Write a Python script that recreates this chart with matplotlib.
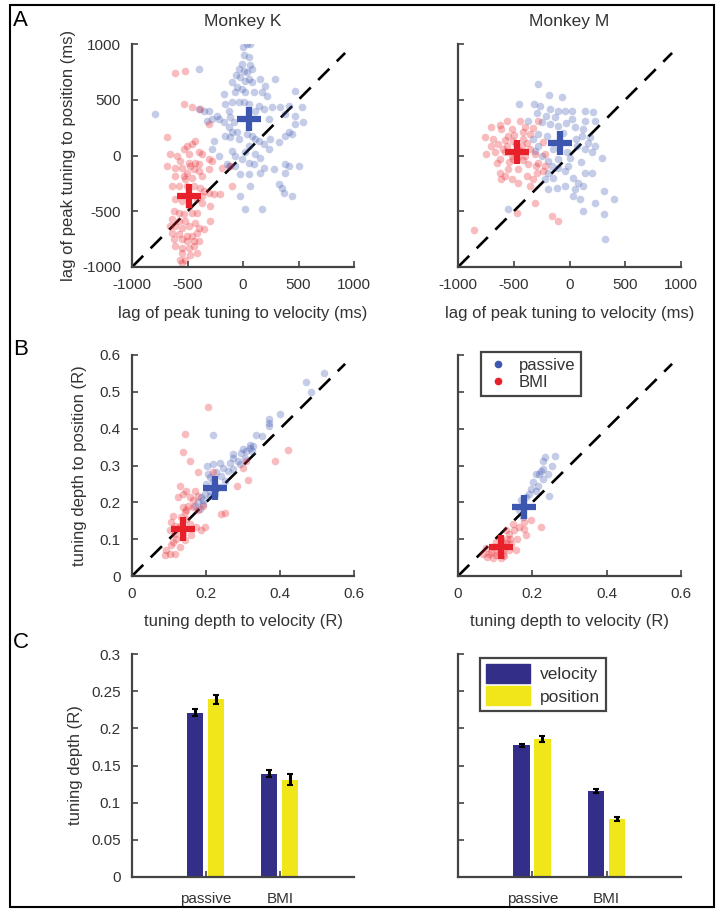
import matplotlib
matplotlib.use("Agg")
import matplotlib.pyplot as plt
from matplotlib.lines import Line2D
from matplotlib.patches import Patch, Rectangle
import numpy as np

plt.rcParams['font.family'] = ['Liberation Sans', 'DejaVu Sans']
plt.rcParams['axes.unicode_minus'] = False

BLUE = '#3d57b0'
RED = '#e8202a'
NAVY = '#332e87'
YELLOW = '#f1e61a'
GRAY = '#444444'
TXT = '#333333'

# ---- panel A: lag of peak tuning (ms), (velocity, position) ----
lag_k_passive = [
    (65, 1000), (35, 1000), (0, 970), (10, 900), (50, 880), (-10, 820), (65, 810),
    (-35, 780), (5, 760), (35, 750), (80, 780), (-65, 720), (-25, 700), (50, 690),
    (20, 670), (80, 660), (155, 690), (290, 690), (-100, 660), (-55, 610), (-10, 600),
    (20, 570), (-70, 570), (95, 570), (170, 567), (200, 627), (215, 537), (470, 582),
    (-175, 552), (-160, 462), (-100, 477), (-40, 477), (5, 477), (50, 462), (140, 447),
    (185, 417), (110, 402), (260, 432), (335, 432), (410, 447), (530, 432), (-130, 402),
    (-280, 327), (-235, 357), (-310, 402), (-400, 417), (-355, 402), (-325, 312),
    (-220, 327), (-175, 297), (-115, 342), (-85, 297), (-130, 252), (-100, 207),
    (-115, 162), (-160, 177), (-55, 207), (-40, 147), (35, 192), (80, 177), (110, 147),
    (140, 132), (185, 102), (230, 57), (245, 147), (320, 117), (380, 177), (410, 207),
    (440, 192), (470, 282), (545, 297), (470, 357), (380, 372), (230, 327), (50, 87),
    (20, 27), (110, 12), (155, -18), (95, -78), (50, -63), (-10, -33), (-70, -3),
    (-100, 42), (-265, 132), (-280, 57), (-220, -3), (-145, -78), (-130, -93),
    (-25, -168), (50, -168), (65, -273), (155, -153), (185, -108), (275, -123),
    (380, -78), (410, -93), (380, -153), (500, -93), (350, -288), (365, -333),
    (440, -363), (-25, -363), (20, -483), (170, -483), (-400, 777), (-790, 372),
    (320, -258), (-70, -93),
]
lag_k_bmi = [
    (-610, 738), (-520, 756), (-535, 462), (-460, 432), (-310, 282), (-385, 417),
    (-685, 162), (-430, 132), (-460, 102), (-505, 87), (-535, 57), (-490, 12),
    (-400, 27), (-370, 12), (-655, 12), (-595, -3), (-565, -48), (-490, -63),
    (-430, -63), (-400, -78), (-310, -33), (-280, -48), (-685, -93), (-610, -108),
    (-550, -108), (-475, -93), (-445, -123), (-400, -138), (-505, -153), (-535, -183),
    (-520, -213), (-460, -198), (-610, -183), (-370, -183), (-310, -123), (-190, -108),
    (-115, -93), (-640, -273), (-580, -273), (-505, -273), (-445, -273), (-385, -288),
    (-355, -318), (-310, -333), (-265, -348), (-205, -348), (-100, -273), (-610, -393),
    (-550, -408), (-415, -393), (-370, -423), (-295, -453), (-625, -498), (-580, -513),
    (-535, -528), (-460, -513), (-415, -513), (-640, -573), (-580, -588), (-520, -588),
    (-430, -603), (-295, -588), (-655, -633), (-610, -633), (-550, -648), (-490, -633),
    (-400, -648), (-355, -663), (-640, -693), (-580, -708), (-505, -723), (-460, -723),
    (-415, -693), (-625, -753), (-550, -753), (-505, -768), (-445, -768), (-400, -768),
    (-610, -813), (-550, -828), (-490, -828), (-445, -813), (-550, -873), (-475, -888),
    (-415, -873), (-565, -933), (-520, -933), (-550, -963), (-370, -363), (-490, -453),
]
lag_m_passive = [
    (-280, 642), (-181, 543), (-70, 522), (-451, 462), (-316, 462), (-265, 447),
    (-175, 417), (-100, 402), (-40, 402), (20, 402), (140, 402), (215, 393),
    (-295, 381), (-214, 357), (-130, 342), (20, 327), (140, 312), (230, 312),
    (-370, 312), (-250, 297), (-175, 282), (-100, 267), (50, 252), (125, 237),
    (-280, 192), (-205, 177), (110, 177), (185, 162), (230, 87), (140, 57), (200, 27),
    (290, -18), (65, 87), (-25, 27), (5, -18), (-100, -33), (-190, -48), (-250, -3),
    (-310, 42), (-325, 147), (-280, 87), (-100, -108), (-40, -138), (-190, -153),
    (-145, -198), (35, -198), (80, -243), (140, -153), (200, -153), (125, -273),
    (-40, -273), (-115, -288), (-190, -303), (35, -363), (95, -393), (230, -423),
    (305, -318), (395, -393), (125, -498), (305, -528), (-550, -483), (320, -753),
    (-10, -93), (-160, -93), (-220, -213), (50, -303), (-60, 200), (60, 150),
    (-150, 60), (170, 110), (-30, 290), (100, -60),
]
lag_m_bmi = [
    (-280, 312), (-445, 312), (-565, 312), (-625, 273), (-700, 252), (-760, 162),
    (-685, 147), (-610, 237), (-520, 237), (-400, 252), (-355, 192), (-550, 177),
    (-640, 102), (-565, 87), (-700, 87), (-745, 12), (-670, 27), (-580, 27),
    (-625, -33), (-505, -33), (-400, -3), (-310, 12), (-220, 12), (-280, -63),
    (-370, -78), (-460, -123), (-550, -123), (-625, -153), (-580, -183), (-520, -213),
    (-460, -243), (-355, -273), (-385, -183), (-295, -153), (-235, -138), (-325, -213),
    (-310, -423), (-475, -513), (-160, -543), (-106, -588), (-856, -669), (-430, 87),
    (-505, 132), (-415, 147), (-235, 117), (-220, -93), (-610, -213), (-450, 50),
    (-520, 0), (-420, -40), (-350, 60), (-480, 100), (-540, -60), (-600, 60),
    (-380, 110), (-460, -10), (-300, -90), (-650, -70), (-500, 180), (-420, 210),
    (-330, 250), (-580, 140),
]

# ---- panel B: tuning depth (R), (velocity, position) ----
depth_k_passive = [
    (0.519, 0.550), (0.469, 0.528), (0.485, 0.499), (0.399, 0.441), (0.370, 0.427),
    (0.370, 0.416), (0.370, 0.407), (0.219, 0.382), (0.336, 0.384), (0.350, 0.380),
    (0.327, 0.353), (0.318, 0.348), (0.309, 0.339), (0.295, 0.335), (0.273, 0.332),
    (0.305, 0.321), (0.286, 0.312), (0.264, 0.308), (0.237, 0.308), (0.219, 0.305),
    (0.203, 0.299), (0.246, 0.294), (0.259, 0.285), (0.273, 0.290), (0.291, 0.303),
    (0.228, 0.281), (0.241, 0.272), (0.210, 0.268), (0.219, 0.259), (0.250, 0.259),
    (0.201, 0.250), (0.237, 0.241), (0.210, 0.232), (0.196, 0.223), (0.187, 0.214),
    (0.178, 0.200), (0.192, 0.196), (0.169, 0.191), (0.183, 0.182), (0.210, 0.218),
    (0.223, 0.223), (0.318, 0.357), (0.300, 0.344), (0.323, 0.339), (0.192, 0.205),
    (0.205, 0.276), (0.273, 0.321),
]
depth_k_bmi = [
    (0.205, 0.458), (0.144, 0.386), (0.138, 0.338), (0.156, 0.312), (0.178, 0.281),
    (0.219, 0.281), (0.300, 0.294), (0.314, 0.260), (0.284, 0.245), (0.129, 0.245),
    (0.147, 0.232), (0.169, 0.232), (0.138, 0.223), (0.124, 0.214), (0.156, 0.214),
    (0.178, 0.218), (0.165, 0.205), (0.151, 0.191), (0.138, 0.187), (0.165, 0.187),
    (0.192, 0.191), (0.241, 0.169), (0.250, 0.171), (0.142, 0.173), (0.133, 0.160),
    (0.147, 0.155), (0.111, 0.164), (0.106, 0.146), (0.115, 0.137), (0.129, 0.137),
    (0.156, 0.142), (0.174, 0.133), (0.187, 0.124), (0.196, 0.133), (0.102, 0.124),
    (0.115, 0.115), (0.138, 0.115), (0.160, 0.110), (0.120, 0.101), (0.142, 0.097),
    (0.106, 0.083), (0.093, 0.070), (0.102, 0.061), (0.115, 0.061), (0.088, 0.057),
    (0.129, 0.079), (0.111, 0.092), (0.422, 0.342), (0.387, 0.312), (0.309, 0.312),
    (0.147, 0.178), (0.178, 0.178),
]
depth_m_passive = [
    (0.235, 0.323), (0.262, 0.326), (0.228, 0.312), (0.253, 0.299), (0.230, 0.290),
    (0.223, 0.285), (0.210, 0.276), (0.241, 0.276), (0.201, 0.254), (0.214, 0.245),
    (0.196, 0.236), (0.210, 0.232), (0.192, 0.223), (0.246, 0.218), (0.183, 0.214),
    (0.169, 0.205), (0.178, 0.191), (0.165, 0.178), (0.174, 0.160), (0.219, 0.276),
    (0.228, 0.263),
]
depth_m_bmi = [
    (0.196, 0.151), (0.178, 0.146), (0.223, 0.133), (0.165, 0.133), (0.151, 0.124),
    (0.138, 0.115), (0.183, 0.110), (0.160, 0.101), (0.133, 0.101), (0.115, 0.101),
    (0.102, 0.092), (0.142, 0.088), (0.124, 0.083), (0.093, 0.079), (0.075, 0.075),
    (0.066, 0.061), (0.084, 0.061), (0.102, 0.057), (0.120, 0.061), (0.138, 0.070),
    (0.156, 0.070), (0.115, 0.048), (0.093, 0.048), (0.079, 0.052), (0.129, 0.124),
    (0.178, 0.128), (0.147, 0.142), (0.120, 0.070), (0.110, 0.080), (0.130, 0.090),
    (0.105, 0.065), (0.140, 0.100), (0.090, 0.065), (0.125, 0.055),
]

# population means (crosses)
mean_lag_k = {'passive': (50, 327), 'BMI': (-484, -363)}
mean_lag_m = {'passive': (-85, 111), 'BMI': (-475, 33)}
mean_depth_k = {'passive': (0.223, 0.239), 'BMI': (0.138, 0.128)}
mean_depth_m = {'passive': (0.178, 0.186), 'BMI': (0.115, 0.078)}

# ---- panel C: mean tuning depth ----
conditions = ['passive', 'BMI']
k_velocity = [0.221, 0.139]
k_position = [0.239, 0.131]
k_velocity_err = [0.005, 0.005]
k_position_err = [0.006, 0.007]
m_velocity = [0.177, 0.116]
m_position = [0.186, 0.078]
m_velocity_err = [0.002, 0.003]
m_position_err = [0.004, 0.003]

TICK_FS = 11
LABEL_FS = 12


def style_axes(ax, yticklabels=True):
    for side in ['top', 'right']:
        ax.spines[side].set_visible(False)
    for side in ['left', 'bottom']:
        ax.spines[side].set_color(GRAY)
        ax.spines[side].set_linewidth(1.6)
    ax.tick_params(direction='in', length=4, width=1.2, color=GRAY,
                   labelcolor=TXT, labelsize=TICK_FS, pad=8)
    if not yticklabels:
        ax.set_yticklabels([])


def scatter_panel(ax, passive, bmi, means, lim, ticks, yticklabels):
    p = np.array(passive)
    b = np.array(bmi)
    end = lim[0] + 0.96 * (lim[1] - lim[0])
    ax.plot([lim[0], end], [lim[0], end],
            color='black', lw=1.9, dashes=(6, 4), zorder=1)
    ax.scatter(p[:, 0], p[:, 1], s=30, color=BLUE, alpha=0.3, lw=0, zorder=2)
    ax.scatter(b[:, 0], b[:, 1], s=30, color=RED, alpha=0.3, lw=0, zorder=2)
    ax.plot(*means['passive'], marker='+', ms=17, mew=4.5, color=BLUE, zorder=3)
    ax.plot(*means['BMI'], marker='+', ms=17, mew=4.5, color=RED, zorder=3)
    ax.set_xlim(lim)
    ax.set_ylim(lim)
    ax.set_xticks(ticks)
    ax.set_yticks(ticks)
    style_axes(ax, yticklabels)


def bar_panel(ax, vel, pos, vel_err, pos_err, yticklabels):
    x = np.arange(1, len(conditions) + 1)
    err_kw = dict(ecolor='black', elinewidth=2.2, capsize=2, capthick=1.5)
    ax.bar(x - 0.145, vel, width=0.22, color=NAVY, yerr=vel_err,
           error_kw=err_kw, label='velocity', zorder=2)
    ax.bar(x + 0.135, pos, width=0.22, color=YELLOW, yerr=pos_err,
           error_kw=err_kw, label='position', zorder=2)
    ax.set_xlim(0, 3)
    ax.set_ylim(0, 0.3)
    ax.set_xticks(x)
    ax.set_xticklabels(conditions)
    ax.set_yticks([0, 0.05, 0.1, 0.15, 0.2, 0.25, 0.3])
    ax.set_yticklabels(['0', '0.05', '0.1', '0.15', '0.2', '0.25', '0.3'])
    style_axes(ax, yticklabels)
    ax.tick_params(axis='x', pad=11)


fig = plt.figure(figsize=(7.19, 9.09), dpi=100)
W, H = 719.0, 909.0


def add_ax(x0, y0, x1, y1):
    return fig.add_axes([x0 / W, 1 - y1 / H, (x1 - x0) / W, (y1 - y0) / H])


axA1 = add_ax(132, 44, 354, 267)
axA2 = add_ax(458, 44, 681, 267)
axB1 = add_ax(132, 355, 354, 576)
axB2 = add_ax(458, 355, 681, 576)
axC1 = add_ax(132, 654, 354, 877)
axC2 = add_ax(458, 654, 681, 877)

lag_ticks = [-1000, -500, 0, 500, 1000]
scatter_panel(axA1, lag_k_passive, lag_k_bmi, mean_lag_k, (-1000, 1000), lag_ticks, True)
scatter_panel(axA2, lag_m_passive, lag_m_bmi, mean_lag_m, (-1000, 1000), lag_ticks, False)
depth_ticks = [0, 0.1, 0.2, 0.3, 0.4, 0.5, 0.6]
scatter_panel(axB1, depth_k_passive, depth_k_bmi, mean_depth_k, (0, 0.6), depth_ticks, True)
scatter_panel(axB2, depth_m_passive, depth_m_bmi, mean_depth_m, (0, 0.6), depth_ticks, False)
for ax in (axB1, axB2):
    ax.set_xticks([0, 0.2, 0.4, 0.6])
    ax.set_xticklabels(['0', '0.2', '0.4', '0.6'])
axB1.set_yticklabels(['0', '0.1', '0.2', '0.3', '0.4', '0.5', '0.6'])

bar_panel(axC1, k_velocity, k_position, k_velocity_err, k_position_err, True)
bar_panel(axC2, m_velocity, m_position, m_velocity_err, m_position_err, False)

axA1.set_title('Monkey K', fontsize=12.5, color=TXT, pad=13)
axA2.set_title('Monkey M', fontsize=12.5, color=TXT, pad=13)

lab = dict(fontsize=LABEL_FS, color=TXT)
for ax in (axA1, axA2):
    ax.set_xlabel('lag of peak tuning to velocity (ms)', labelpad=10, **lab)
axA1.set_ylabel('lag of peak tuning to position (ms)', labelpad=4, **lab)
for ax in (axB1, axB2):
    ax.set_xlabel('tuning depth to velocity (R)', labelpad=9, **lab)
axB1.set_ylabel('tuning depth to position (R)', labelpad=9, **lab)
axC1.set_ylabel('tuning depth (R)', labelpad=6, **lab)

handles = [Line2D([], [], ls='none', marker='o', ms=4.5, color=BLUE, label='passive'),
           Line2D([], [], ls='none', marker='o', ms=4.5, color=RED, label='BMI')]
legB = axB2.legend(handles=handles, loc='upper left', bbox_to_anchor=(0.103, 1.014),
                   borderaxespad=0, fancybox=False, fontsize=12, handlelength=1.3,
                   handletextpad=0.6, borderpad=0.35, labelspacing=0.15, framealpha=1,
                   labelcolor=TXT)
legB.get_frame().set_edgecolor(GRAY)
legB.get_frame().set_linewidth(1.6)

handles = [Patch(color=NAVY, label='velocity'), Patch(color=YELLOW, label='position')]
legC = axC2.legend(handles=handles, loc='upper left', bbox_to_anchor=(0.099, 0.982),
                   borderaxespad=0, fancybox=False, fontsize=12.5, handlelength=2.5,
                   handleheight=1.3, handletextpad=0.6, borderpad=0.35, labelspacing=0.2,
                   framealpha=1, labelcolor=TXT)
legC.get_frame().set_edgecolor(GRAY)
legC.get_frame().set_linewidth(1.6)

for letter, y in [('A', 21), ('B', 350), ('C', 643)]:
    fig.text(13 / W, 1 - y / H, letter, fontsize=16, color='black', va='center', ha='left')

fig.patches.append(Rectangle((10 / W, 1 - 907 / H), 704 / W, 902 / H,
                             transform=fig.transFigure, fill=False,
                             edgecolor='black', lw=1.5))

fig.savefig('out.png', dpi=100)
